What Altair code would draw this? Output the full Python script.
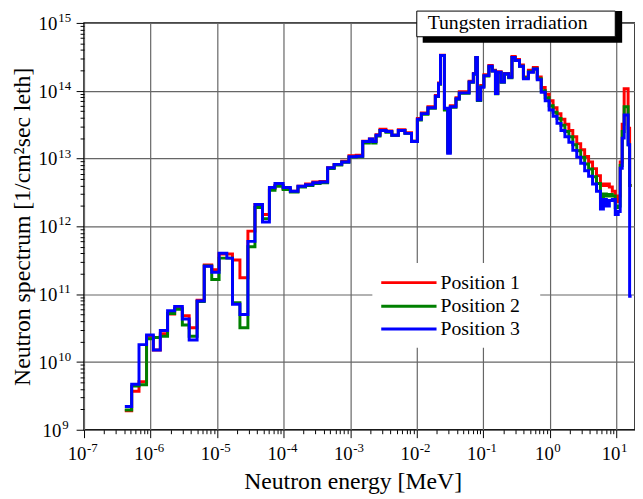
import altair as alt
import pandas as pd

# ---- data ----
edges = [4.1e-7, 5.2e-7, 6.7e-7, 8.7e-7, 1.1e-6, 1.4e-6, 1.8e-6, 2.3e-6, 3.0e-6, 3.8e-6,
         5.0e-6, 6.4e-6, 8.3e-6, 1.07e-5, 1.4e-5, 1.7e-5, 2.2e-5, 2.9e-5, 3.7e-5, 4.8e-5,
         6.1e-5, 7.4e-5, 9.8e-5, 1.26e-4, 1.64e-4, 2.13e-4, 2.74e-4, 3.52e-4, 4.57e-4, 5.73e-4,
         7.45e-4, 9.57e-4, 1.23e-3, 1.54e-3, 1.94e-3, 2.17e-3, 2.44e-3, 2.80e-3, 3.44e-3, 4.22e-3,
         5.28e-3, 6.64e-3, 8.34e-3, 1.02e-2, 1.17e-2, 1.47e-2, 1.90e-2, 2.12e-2, 2.27e-2, 2.60e-2,
         2.91e-2, 3.19e-2, 3.88e-2, 4.35e-2, 6.11e-2, 7.08e-2, 7.69e-2, 8.13e-2, 9.12e-2, 0.102,
         0.121, 0.136, 0.152, 0.165, 0.185, 0.207, 0.240, 0.269, 0.301, 0.349,
         0.400, 0.475, 0.564, 0.646, 0.741, 0.850, 0.973, 1.116, 1.279, 1.466,
         1.681, 1.927, 2.209, 2.533, 2.904, 3.329, 3.816, 4.375, 5.015, 5.749,
         6.371, 7.059, 7.822, 8.667, 9.60, 10.64, 11.39, 12.20, 13.06, 14.97,
         15.77, 16.88]

pos3 = [2.2e9, 4.7e9, 1.8e10, 2.5e10, 1.5e10, 2.9e10, 5.7e10, 6.6e10, 4.3e10, 2.1e10,
        7.9e10, 2.57e11, 2.1e11, 4.0e11, 3.4e11, 7.1e10, 5.0e10, 6.0e11, 2.1e12, 1.16e12,
        3.75e12, 4.3e12, 3.75e12, 3.3e12, 3.9e12, 4.1e12, 4.4e12, 4.5e12, 7.3e12, 8.2e12,
        8.9e12, 1.06e13, 1.08e13, 1.79e13, 1.95e13, 1.79e13, 2.2e13, 2.6e13, 2.5e13, 2.2e13,
        2.6e13, 2.35e13, 1.79e13, 3.8e13, 4.6e13, 5.6e13, 8.3e13, 1.27e14, 3.3e14, 5.5e13,
        1.2e13, 5.8e13, 7.6e13, 9.3e13, 1.35e14, 1.78e14, 3.1e14, 7.3e13, 1.13e14, 1.67e14,
        2.3e14, 1.96e14, 9.1e13, 1.87e14, 1.35e14, 1.78e14, 1.58e14, 3.1e14, 2.8e14, 2.3e14,
        1.5e14, 1.87e14, 2.1e14, 1.45e14, 9.5e13, 7.1e13, 5.2e13, 4.2e13, 3.3e13, 2.6e13,
        2.1e13, 1.74e13, 1.32e13, 1.05e13, 8.5e12, 6.6e12, 5.5e12, 4.2e12, 3.3e12, 1.8e12,
        2.5e12, 2.0e12, 2.4e12, 2.5e12, 1.5e12, 1.66e12, 7.2e12, 2.0e13, 4.4e13, 1.6e13,
        9.3e10]

pos1 = [1.9e9, 3.7e9, 5.1e9, 2.4e10, 1.5e10, 2.6e10, 5.1e10, 6.2e10, 4.8e10, 3.2e10,
        8.1e10, 2.7e11, 2.3e11, 3.9e11, 3.9e11, 3.2e11, 1.74e11, 8.5e11, 2.1e12, 1.5e12,
        3.6e12, 4.0e12, 3.6e12, 3.3e12, 3.9e12, 4.2e12, 4.5e12, 4.6e12, 7.3e12, 8.2e12,
        9.1e12, 1.1e13, 1.12e13, 1.8e13, 1.95e13, 1.8e13, 2.25e13, 2.7e13, 2.55e13, 2.2e13,
        2.65e13, 2.4e13, 1.8e13, 3.9e13, 4.7e13, 5.8e13, 8.5e13, 1.3e14, 3.35e14, 5.3e13,
        1.25e13, 6.0e13, 7.9e13, 9.7e13, 1.38e14, 1.8e14, 3.1e14, 7.5e13, 1.2e14, 1.72e14,
        2.35e14, 2.0e14, 9.3e13, 1.9e14, 1.38e14, 1.8e14, 1.62e14, 3.2e14, 2.9e14, 2.4e14,
        1.6e14, 2.0e14, 2.2e14, 1.6e14, 1.12e14, 8.9e13, 7.1e13, 5.6e13, 4.6e13, 3.8e13,
        3.2e13, 2.6e13, 2.1e13, 1.66e13, 1.35e13, 1.07e13, 8.9e12, 7.1e12, 5.6e12, 4.2e12,
        4.0e12, 4.2e12, 3.8e12, 3.3e12, 2.3e12, 2.8e12, 8.9e12, 3.2e13, 1.07e14, 2.8e13,
        4.0e12]

pos2 = [1.95e9, 4.4e9, 4.6e9, 2.2e10, 2.3e10, 2.4e10, 5.2e10, 6.0e10, 3.5e10, 2.4e10,
        7.8e10, 2.6e11, 1.64e11, 3.4e11, 3.4e11, 7.5e10, 3.2e10, 5.0e11, 1.9e12, 1.3e12,
        3.4e12, 3.9e12, 3.5e12, 3.2e12, 3.8e12, 4.0e12, 4.3e12, 4.4e12, 7.1e12, 8.0e12,
        8.8e12, 1.05e13, 1.06e13, 1.7e13, 1.8e13, 1.7e13, 2.15e13, 2.6e13, 2.45e13, 2.2e13,
        2.6e13, 2.35e13, 1.8e13, 3.7e13, 4.5e13, 5.5e13, 8.2e13, 1.25e14, 3.3e14, 5.2e13,
        1.25e13, 5.7e13, 7.5e13, 9.2e13, 1.33e14, 1.75e14, 3.05e14, 7.2e13, 1.15e14, 1.65e14,
        2.25e14, 1.95e14, 9.0e13, 1.85e14, 1.33e14, 1.75e14, 1.56e14, 3.1e14, 2.8e14, 2.3e14,
        1.55e14, 1.9e14, 2.1e14, 1.5e14, 1.0e14, 7.9e13, 6.0e13, 4.8e13, 3.9e13, 3.1e13,
        2.5e13, 2.1e13, 1.6e13, 1.3e13, 1.05e13, 8.3e12, 7.0e12, 5.4e12, 4.3e12, 2.6e12,
        3.0e12, 2.8e12, 2.95e12, 2.8e12, 1.9e12, 2.0e12, 7.9e12, 2.5e13, 5.8e13, 1.6e13,
        4.0e12]

series_names = ["Position 1", "Position 2", "Position 3"]
series_colors = ["#ff0000", "#008000", "#0000ff"]
x_exponents = [-7, -6, -5, -4, -3, -2, -1, 0, 1]
y_exponents = [9, 10, 11, 12, 13, 14, 15]
box_title = "Tungsten irradiation"
x_title = "Neutron energy [MeV]"
y_title = "Neutron spectrum [1/cm\u00b2sec leth]"

# ---- build tables ----
rows = []
for name, vals in zip(series_names, [pos1, pos2, pos3]):
    for e, v in zip(edges[:-1], vals):
        rows.append({"E": e, "F": v, "series": name})
    rows.append({"E": edges[-1], "F": vals[-1], "series": name})
df = pd.DataFrame(rows)

xlab_neg = pd.DataFrame({"E": [10.0 ** k for k in x_exponents if k < 0],
                         "b": ["10" for k in x_exponents if k < 0],
                         "e": [str(k) for k in x_exponents if k < 0]})
xlab_pos = pd.DataFrame({"E": [10.0 ** k for k in x_exponents if k >= 0],
                         "b": ["10" for k in x_exponents if k >= 0],
                         "e": [str(k) for k in x_exponents if k >= 0]})
ylab_two = pd.DataFrame({"F": [10.0 ** k for k in y_exponents if k >= 10],
                         "b": ["10" for k in y_exponents if k >= 10],
                         "e": [str(k) for k in y_exponents if k >= 10]})
ylab_one = pd.DataFrame({"F": [10.0 ** k for k in y_exponents if k < 10],
                         "b": ["10" for k in y_exponents if k < 10],
                         "e": [str(k) for k in y_exponents if k < 10]})

x_ticks = [m * 10.0 ** k for k in x_exponents for m in range(1, 10) if m * 10.0 ** k <= 19]
y_ticks = [m * 10.0 ** k for k in y_exponents for m in range(1, 10) if m * 10.0 ** k <= 1e15]

major = "abs(log(datum.value)/LN10 - round(log(datum.value)/LN10)) < 0.001"

FONT = "Liberation Serif"
W, H = 558, 412
XMAX = 19.0
BASE_FS, EXP_FS = 19, 13

common_axis = dict(
    labels=False,
    titleFont=FONT, titleFontSize=24, titleFontWeight="normal", titleColor="black",
    domain=False, tickColor="black", tickWidth=1,
    tickSize={"condition": {"test": major, "value": 8}, "value": 4},
    grid=True, gridColor="#666666", gridWidth=1.2,
    gridOpacity={"condition": {"test": major, "value": 1}, "value": 0},
)

x_axis = alt.Axis(values=x_ticks, title=x_title, titleX=272, titleY=60,
                  titleBaseline="alphabetic", **common_axis)
y_axis = alt.Axis(values=y_ticks, title=y_title, titleX=-55, titleY=H / 2, titleAngle=270,
                  titleBaseline="alphabetic", titleAlign="center", **common_axis)

xs = alt.Scale(type="log", domain=[1e-7, XMAX])
ys = alt.Scale(type="log", domain=[1e9, 1e15])
cs = alt.Scale(domain=series_names, range=series_colors)

lines = alt.Chart(df).mark_line(interpolate="step-after", strokeWidth=3, clip=True).encode(
    x=alt.X("E:Q", scale=xs, axis=x_axis),
    y=alt.Y("F:Q", scale=ys, axis=y_axis),
    color=alt.Color("series:N", scale=cs, legend=None),
    order=alt.Order("E:Q"),
)

def xlabels(d, dxb, dxe):
    base = alt.Chart(d).mark_text(font=FONT, fontSize=BASE_FS, align="right",
                                  baseline="alphabetic", dx=dxb, color="black").encode(
        x=alt.X("E:Q", scale=xs, axis=x_axis), y=alt.value(H + 31), text="b:N")
    ex = alt.Chart(d).mark_text(font=FONT, fontSize=EXP_FS, align="left",
                                baseline="alphabetic", dx=dxe, color="black").encode(
        x=alt.X("E:Q", scale=xs, axis=x_axis), y=alt.value(H + 23), text="e:N")
    return [base, ex]

def ylabels(d, xb):
    base = alt.Chart(d).mark_text(font=FONT, fontSize=BASE_FS, align="right",
                                  baseline="middle", dy=1, color="black").encode(
        y=alt.Y("F:Q", scale=ys, axis=y_axis), x=alt.value(xb), text="b:N")
    ex = alt.Chart(d).mark_text(font=FONT, fontSize=EXP_FS, align="left",
                                baseline="alphabetic", dy=-1, color="black").encode(
        y=alt.Y("F:Q", scale=ys, axis=y_axis), x=alt.value(xb + 1), text="e:N")
    return [base, ex]

label_layers = (xlabels(xlab_neg, 2.5, 3) + xlabels(xlab_pos, 4, 4.5)
                + ylabels(ylab_two, -27) + ylabels(ylab_one, -23))

# title box with shadow
box_df = pd.DataFrame({"t": [box_title]})
shadow = alt.Chart(box_df).mark_rect(color="black").encode(
    x=alt.value(343), x2=alt.value(545), y=alt.value(-12), y2=alt.value(20))
box = alt.Chart(box_df).mark_rect(fill="white", stroke="black", strokeWidth=1).encode(
    x=alt.value(337), x2=alt.value(538), y=alt.value(-12), y2=alt.value(14))
box_text = alt.Chart(box_df).mark_text(font=FONT, fontSize=20, align="left",
                                       baseline="alphabetic", color="black").encode(
    x=alt.value(348), y=alt.value(6), text="t:N")

# legend
leg_df = pd.DataFrame({"series": series_names, "ypx": [263, 287, 310]})
leg_bg = alt.Chart(box_df).mark_rect(fill="white").encode(
    x=alt.value(292), x2=alt.value(462), y=alt.value(243), y2=alt.value(329))
leg_lines = alt.Chart(leg_df).mark_rule(strokeWidth=3).encode(
    x=alt.value(301), x2=alt.value(357),
    y=alt.Y("ypx:Q", scale=None),
    color=alt.Color("series:N", scale=cs, legend=None))
leg_text = alt.Chart(leg_df).mark_text(font=FONT, fontSize=20, align="left",
                                       baseline="middle", color="black").encode(
    x=alt.value(361), y=alt.Y("ypx:Q", scale=None), text="series:N")

chart = alt.layer(lines, *label_layers, leg_bg, leg_lines, leg_text, shadow, box, box_text).properties(
    width=W, height=H,
    padding={"left": 77, "top": 12, "right": 0, "bottom": 67},
    autosize=alt.AutoSizeParams(type="none"),
    background="white",
).configure_view(stroke="black", strokeWidth=1.5)

chart.save("out.html", embed_options={"renderer": "svg", "actions": False})
